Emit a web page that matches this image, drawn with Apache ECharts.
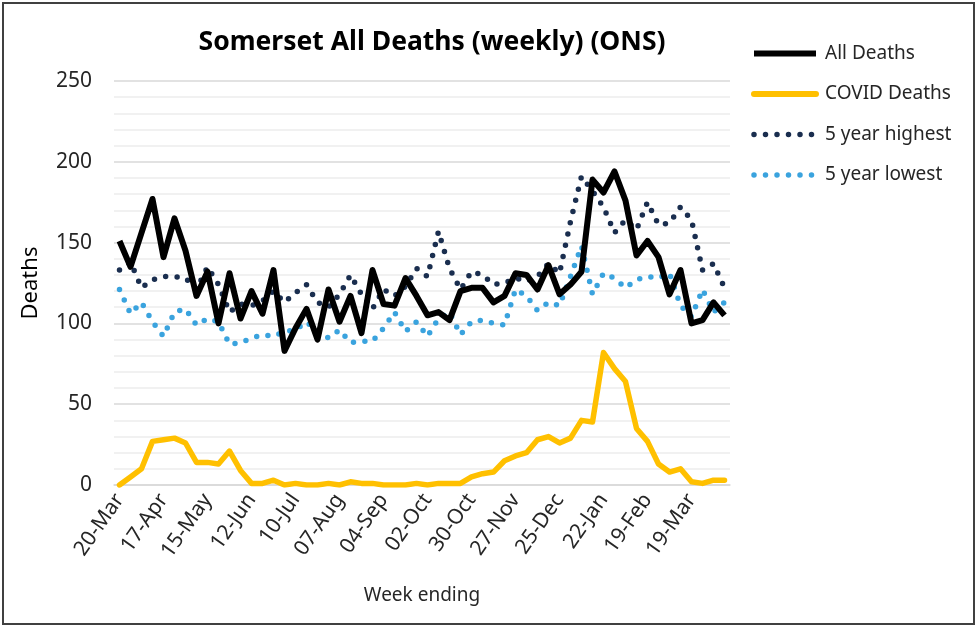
<!DOCTYPE html>
<html>
<head>
<meta charset="utf-8">
<script src="https://cdn.jsdelivr.net/npm/echarts@6/dist/echarts.min.js"></script>
<style>
  html, body { margin: 0; padding: 0; background: #fff; }
  #chart { width: 979px; height: 627px; }
</style>
</head>
<body>
<div id="chart"></div>
<script>
// week ending dates (Mar 2020 - Apr 2021)
var weeks = ['20-Mar', '27-Mar', '03-Apr', '10-Apr', '17-Apr', '24-Apr', '01-May', '08-May',
  '15-May', '22-May', '29-May', '05-Jun', '12-Jun', '19-Jun', '26-Jun', '03-Jul',
  '10-Jul', '17-Jul', '24-Jul', '31-Jul', '07-Aug', '14-Aug', '21-Aug', '28-Aug',
  '04-Sep', '11-Sep', '18-Sep', '25-Sep', '02-Oct', '09-Oct', '16-Oct', '23-Oct',
  '30-Oct', '06-Nov', '13-Nov', '20-Nov', '27-Nov', '04-Dec', '11-Dec', '18-Dec',
  '25-Dec', '01-Jan', '08-Jan', '15-Jan', '22-Jan', '29-Jan', '05-Feb', '12-Feb',
  '19-Feb', '26-Feb', '05-Mar', '12-Mar', '19-Mar', '26-Mar', '02-Apr', '09-Apr'];

var allDeaths = [151, 135, 156, 177, 141, 165, 145, 117, 132, 100, 131, 103, 120, 106, 133, 83,
  97, 109, 90, 121, 101, 117, 94, 133, 112, 111, 128, 117, 105, 107, 102, 120,
  122, 122, 113, 117, 131, 130, 121, 136, 118, 124, 132, 189, 181, 194, 176, 142,
  151, 141, 118, 133, 100, 102, 113, 105];

var covidDeaths = [0, 5, 10, 27, 28, 29, 26, 14, 14, 13, 21, 9, 1, 1, 3, 0,
  1, 0, 0, 1, 0, 2, 1, 1, 0, 0, 0, 1, 0, 1, 1, 1,
  5, 7, 8, 15, 18, 20, 28, 30, 26, 29, 40, 39, 82, 72, 64, 35,
  27, 13, 8, 10, 2, 1, 3, 3];

var fiveYearHigh = [133, 138, 122, 127, 129, 129, 128, 121, 135, 124, 107, 112, 111, 114, 120, 113,
  119, 124, 113, 110, 118, 130, 118, 109, 121, 117, 123, 134, 129, 157, 134, 121,
  132, 130, 124, 125, 128, 126, 129, 137, 131, 163, 191, 182, 172, 156, 164, 158,
  175, 161, 162, 172, 164, 133, 137, 122];

var fiveYearLow = [121, 106, 113, 101, 92, 107, 109, 99, 103, 101, 87, 88, 91, 93, 92, 95,
  96, 101, 95, 91, 96, 88, 89, 89, 97, 107, 95, 101, 92, 103, 107, 93,
  101, 102, 100, 99, 121, 117, 108, 113, 111, 129, 148, 118, 131, 128, 122, 127,
  129, 128, 131, 111, 104, 121, 107, 113];

var FONT = 'Noto Sans';
var HIDE_SYMBOL = { opacity: 0 };

var myChart = echarts.init(document.getElementById('chart'));

var option = {
  animation: false,
  backgroundColor: '#fff',
  title: {
    text: 'Somerset All Deaths (weekly) (ONS)',
    left: 427,
    top: 24,
    textAlign: 'center',
    textStyle: { fontFamily: FONT, fontSize: 26.5, fontWeight: 'bold', color: '#000' }
  },
  legend: {
    orient: 'vertical',
    left: 751,
    top: 44,
    padding: 0,
    itemWidth: 62,
    itemHeight: 20,
    itemGap: 21.5,
    textStyle: { fontFamily: FONT, fontSize: 19, color: '#262626', padding: [0, 0, 0, 4] },
    data: [
      { name: 'All Deaths', itemStyle: HIDE_SYMBOL, lineStyle: { width: 6, cap: 'butt' } },
      { name: 'COVID Deaths', itemStyle: HIDE_SYMBOL, lineStyle: { width: 6, cap: 'round' } },
      { name: '5 year highest', itemStyle: HIDE_SYMBOL, lineStyle: { width: 5.5 } },
      { name: '5 year lowest', itemStyle: HIDE_SYMBOL, lineStyle: { width: 5.5 } }
    ]
  },
  grid: { left: 114, right: 249, top: 81, bottom: 142 },
  xAxis: {
    type: 'category',
    data: weeks,
    name: 'Week ending',
    nameLocation: 'middle',
    nameGap: 101,
    nameTextStyle: { fontFamily: FONT, fontSize: 19, color: '#262626' },
    axisLine: { lineStyle: { color: '#d9d9d9', width: 1.5 } },
    axisTick: { interval: 0, length: 6, lineStyle: { color: '#d9d9d9', width: 1.5 } },
    axisLabel: {
      interval: 3,
      rotate: 55,
      margin: 11,
      fontFamily: FONT,
      fontSize: 21,
      color: '#262626'
    }
  },
  yAxis: {
    type: 'value',
    min: 0,
    max: 250,
    interval: 50,
    name: 'Deaths',
    nameLocation: 'middle',
    nameGap: 72,
    nameTextStyle: { fontFamily: FONT, fontSize: 22, color: '#000' },
    axisLine: { show: false },
    axisTick: { show: false },
    axisLabel: { margin: 22, fontFamily: FONT, fontSize: 21, color: '#262626' },
    splitLine: { lineStyle: { color: '#d9d9d9', width: 1.5 } },
    minorTick: { show: false, splitNumber: 5 },
    minorSplitLine: { show: true, lineStyle: { color: '#ededed', width: 1.5 } }
  },
  series: [
    {
      name: 'All Deaths',
      type: 'line',
      data: allDeaths,
      symbol: 'none',
      z: 5,
      lineStyle: { color: '#000', width: 6, join: 'round' },
      itemStyle: { color: '#000' }
    },
    {
      name: 'COVID Deaths',
      type: 'line',
      data: covidDeaths,
      symbol: 'none',
      z: 4,
      lineStyle: { color: '#ffc000', width: 5.5, join: 'round', cap: 'round' },
      itemStyle: { color: '#ffc000' }
    },
    {
      name: '5 year highest',
      type: 'line',
      data: fiveYearHigh,
      symbol: 'none',
      z: 3,
      lineStyle: { color: '#1a2e4f', width: 5.5, type: [0, 11.5], cap: 'round' },
      itemStyle: { color: '#1a2e4f' }
    },
    {
      name: '5 year lowest',
      type: 'line',
      data: fiveYearLow,
      symbol: 'none',
      z: 2,
      lineStyle: { color: '#3aa3de', width: 5.5, type: [0, 11.5], cap: 'round' },
      itemStyle: { color: '#3aa3de' }
    }
  ],
  graphic: [{
    type: 'rect',
    silent: true,
    shape: { x: 3, y: 3, width: 971, height: 621 },
    style: { fill: 'none', stroke: '#404040', lineWidth: 2 }
  }]
};

myChart.setOption(option);
</script>
</body>
</html>
